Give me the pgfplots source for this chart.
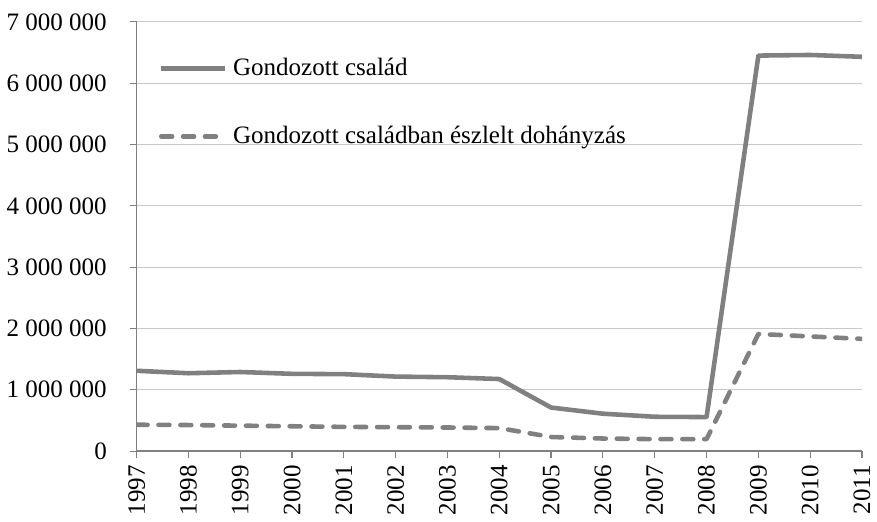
\documentclass[border=0pt]{standalone}
\usepackage{fontspec}
\setmainfont{Liberation Serif}
\usepackage{pgfplots}
\pgfplotsset{compat=1.18}

\definecolor{lineg}{RGB}{128,128,128}
\definecolor{gridg}{RGB}{200,200,200}

\begin{document}
\begin{tikzpicture}
\begin{axis}[
  scale only axis, width=365pt, height=216pt,
  xmin=1997, xmax=2011, ymin=0, ymax=7000000,
  axis x line=bottom, axis y line=left,
  axis line style={lineg, -, line width=0.8pt},
  xtick={1997,...,2011},
  ytick={0,1000000,...,7000000},
  xticklabel style={rotate=90, anchor=east, /pgf/number format/1000 sep={}},
  yticklabel style={xshift=-8pt, /pgf/number format/.cd, fixed, 1000 sep={\ }},
  scaled y ticks=false,
  /pgf/number format/assume math mode=true,
  tick style={lineg, line width=0.6pt},
  tick align=outside, major tick length=3.5pt,
  ymajorgrids, grid style={gridg, line width=0.6pt},
  font=\fontsize{12.6}{14}\selectfont,
  legend style={at={(0.022,0.935)}, anchor=north west, draw=none, fill=none,
    row sep=20pt, font=\fontsize{12.6}{14}\selectfont},
  legend cell align=left,
  legend image code/.code={\draw[#1] (0pt,0pt) -- (32pt,0pt); \path (33pt,0pt);},
]
\addplot[lineg, line width=2.3pt, line join=round] coordinates {
(1997,1310000)(1998,1270000)(1999,1290000)(2000,1260000)(2001,1255000)
(2002,1215000)(2003,1205000)(2004,1175000)(2005,710000)(2006,610000)
(2007,560000)(2008,555000)(2009,6450000)(2010,6460000)(2011,6430000)};
\addlegendentry{Gondozott család}
\addplot[lineg, line width=2.3pt, line cap=round, line join=round, dash pattern=on 5.5pt off 5.5pt] coordinates {
(1997,430000)(1998,425000)(1999,415000)(2000,405000)(2001,395000)
(2002,390000)(2003,385000)(2004,375000)(2005,230000)(2006,205000)
(2007,195000)(2008,195000)(2009,1910000)(2010,1870000)(2011,1830000)};
\addlegendentry{Gondozott családban észlelt dohányzás}
\end{axis}
\path ([yshift=11pt]current axis.north) -- ([xshift=6pt]current axis.east);
\end{tikzpicture}
\end{document}
